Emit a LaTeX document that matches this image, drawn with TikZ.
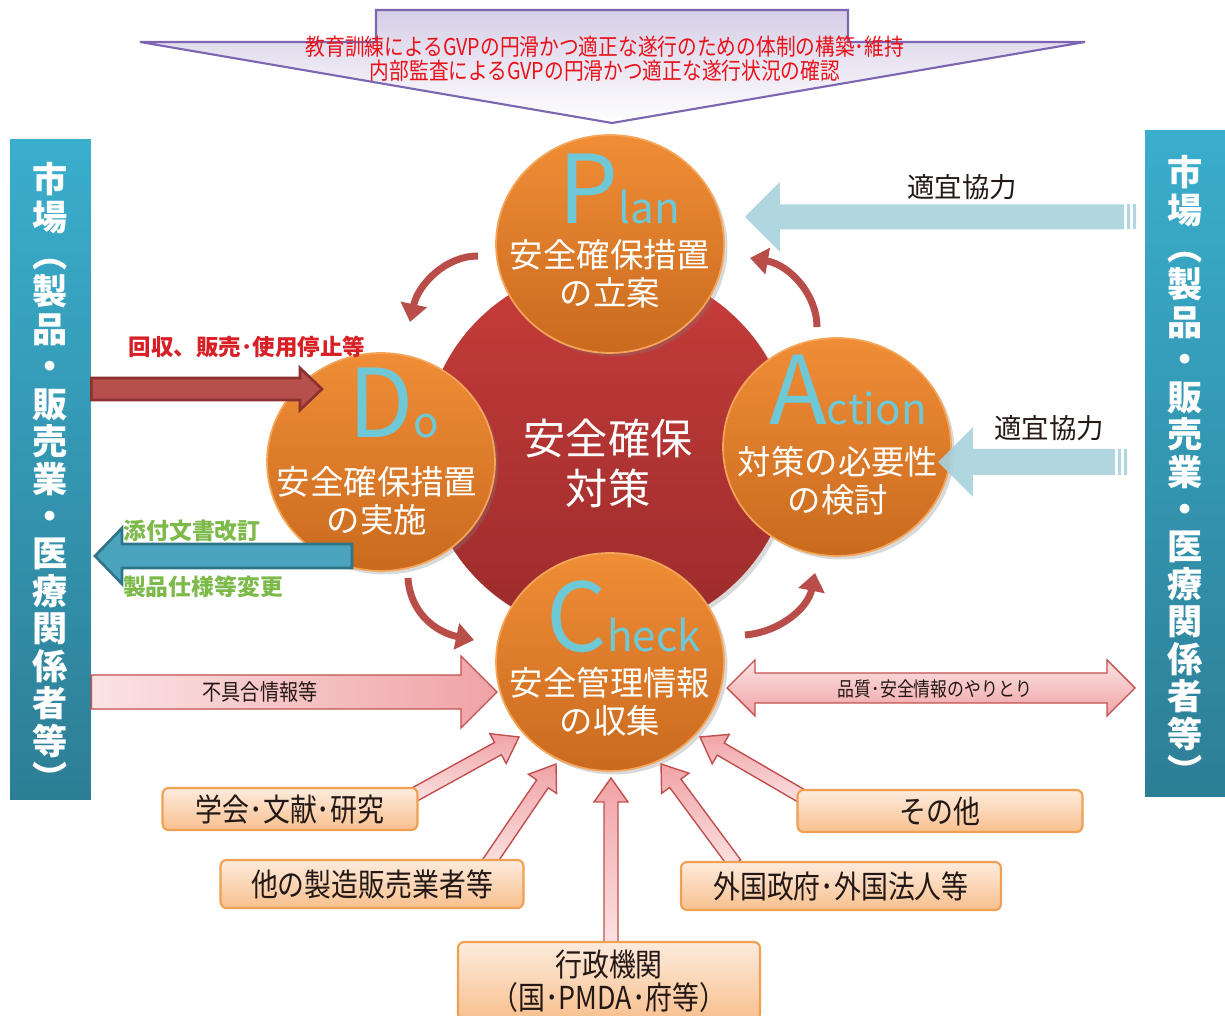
\documentclass[tikz,border=0pt]{standalone}
\usepackage{fontspec}
\setmainfont{Noto Sans CJK JP}
\newfontfamily\condfont[FakeStretch=0.85]{Noto Sans CJK JP}
\usetikzlibrary{calc,shapes.geometric,shadows,arrows.meta}

\definecolor{barT}{HTML}{3AAECD}
\definecolor{barB}{HTML}{2D7E95}
\definecolor{bnFill}{HTML}{D6CEE6}
\definecolor{bnEdge}{HTML}{7C66B2}
\definecolor{bnRed}{HTML}{E8121A}
\definecolor{coreT}{HTML}{C63D3A}
\definecolor{coreB}{HTML}{9B2B2B}
\definecolor{orT}{HTML}{F08D36}
\definecolor{orB}{HTML}{C96A1E}
\definecolor{orL}{HTML}{F5A55A}
\definecolor{letter}{HTML}{6FC8D6}
\definecolor{cycC}{HTML}{B84D4A}
\definecolor{ltBlue}{HTML}{A7D1DD}
\definecolor{pkL}{HTML}{FBE3E4}
\definecolor{pkD}{HTML}{F0A3A6}
\definecolor{pkE}{HTML}{C0504D}
\definecolor{boxT}{HTML}{FDEBDD}
\definecolor{boxB}{HTML}{F8C08E}
\definecolor{boxL}{HTML}{EFA052}
\definecolor{rcF}{HTML}{B5504C}
\definecolor{rcE}{HTML}{8C3030}
\definecolor{tlF}{HTML}{4AA4BD}
\definecolor{tlE}{HTML}{2F7489}
\definecolor{grn}{HTML}{7DBA4B}
\definecolor{redlbl}{HTML}{D71F26}
\definecolor{txt}{HTML}{231815}

% block arrow: style, tail, tip, shaft half width, head half width, head length
\newcommand{\blockarrow}[6]{%
  \coordinate (ba-h) at ($(#3)!#6!(#2)$);
  \path[#1] ($(#2)!#4!90:(#3)$) -- ($(ba-h)!#4!-90:(#2)$) -- ($(ba-h)!#5!-90:(#2)$) -- (#3)
    -- ($(ba-h)!#5!90:(#2)$) -- ($(ba-h)!#4!90:(#2)$) -- ($(#2)!#4!-90:(#3)$) -- cycle;
}
% two headed block arrow
\newcommand{\twinarrow}[6]{%
  \coordinate (ta-a) at ($(#2)!#6!(#3)$);
  \coordinate (ta-b) at ($(#3)!#6!(#2)$);
  \path[#1] (#2) -- ($(ta-a)!#5!90:(#3)$) -- ($(ta-a)!#4!90:(#3)$) -- ($(ta-b)!#4!-90:(#2)$)
    -- ($(ta-b)!#5!-90:(#2)$) -- (#3) -- ($(ta-b)!#5!90:(#2)$) -- ($(ta-b)!#4!90:(#2)$)
    -- ($(ta-a)!#4!-90:(#3)$) -- ($(ta-a)!#5!-90:(#3)$) -- cycle;
}

\begin{document}
\begin{tikzpicture}[x=0.02cm, y=-0.02cm,
  every node/.style={inner sep=0pt},
  bar/.style={top color=barT, bottom color=barB},
  vtext/.style={text=white, align=center, font=\fontsize{20pt}{21.3pt}\selectfont\bfseries},
  core/.style={circle, minimum size=7.36cm, top color=coreT, bottom color=coreB,
    drop shadow={opacity=.3, shadow xshift=2pt, shadow yshift=-2pt}},
  pdca/.style={ellipse, minimum width=4.56cm, minimum height=4.36cm, top color=orT,
    bottom color=orB, draw=orL, line width=1pt,
    drop shadow={opacity=.3, shadow xshift=2pt, shadow yshift=-2pt}},
  big/.style={text=letter, anchor=base},
  ctext/.style={text=white, align=center, font=\fontsize{19pt}{21.6pt}\selectfont},
  cyc/.style={draw=cycC, line width=0.14cm, -{Triangle[width=0.52cm, length=0.36cm]}},
  pinkH/.style={left color=pkL, right color=pkD, draw=pkE, line width=.8pt},
  pinkV/.style={top color=pkD, bottom color=pkL, draw=pkE, line width=.8pt},
  pinkTw/.style={top color=pkL, bottom color=pkD, draw=pkE, line width=.8pt},
  coop/.style={fill=ltBlue, opacity=.9},
  recall/.style={fill=rcF, draw=rcE, line width=1.5pt},
  revise/.style={fill=tlF, draw=tlE, line width=1.5pt},
  srcbox/.style={rounded corners=0.12cm, draw=boxL, line width=1.2pt, top color=boxT,
    bottom color=boxB, text=txt, align=center, font=\condfont\fontsize{18pt}{19pt}\selectfont}]

\useasboundingbox (0,0) rectangle (1225,1016);

% markets on both sides
\node[bar, minimum width=1.62cm, minimum height=13.22cm] (lbar) at (50.5,469.5) {};
\node[bar, minimum width=1.6cm, minimum height=13.34cm] (rbar) at (1185,463.5) {};
\node[vtext] (lbarT) at (50,477) {市\\場\\︵\\製\\品\\・\\販\\売\\業\\・\\医\\療\\関\\係\\者\\等\\︶};
\node[vtext] (rbarT) at (1185,470) {市\\場\\︵\\製\\品\\・\\販\\売\\業\\・\\医\\療\\関\\係\\者\\等\\︶};

% banner
\path[top color=bnFill, bottom color=white, draw=bnEdge, line width=1.2pt]
  (376,10) -- (848,10) -- (848,42) -- (1085,42) -- (612,123) -- (140,42) -- (376,42) -- cycle;
\node[text=bnRed, align=center, font=\condfont\fontsize{13.2pt}{13.7pt}\selectfont] (bnT) at (605,59)
  {教育訓練によるGVPの円滑かつ適正な遂行のための体制の構築･維持\\内部監査によるGVPの円滑かつ適正な遂行状況の確認};

% PDCA
\node[core] (core) at (608,450) {};
\node[pdca] (plan) at (610,244) {};
\node[pdca] (do) at (381,462) {};
\node[pdca] (act) at (837,447) {};
\node[pdca] (check) at (610,662) {};

\node[text=white, align=center, font=\fontsize{24pt}{28.5pt}\selectfont] (coreT) at (608,463) {安全確保\\対策};

\node[big] (planL) at (619,224) {\fontsize{54pt}{54pt}\selectfont P\fontsize{24pt}{24pt}\selectfont lan};
\node[big] (doL) at (394,438) {\fontsize{54pt}{54pt}\selectfont D\fontsize{24pt}{24pt}\selectfont o};
\node[big] (actL) at (848,425) {\fontsize{54pt}{54pt}\selectfont A\fontsize{24pt}{24pt}\selectfont ction};
\node[big] (checkL) at (624,652) {\fontsize{54pt}{54pt}\selectfont C\fontsize{24pt}{24pt}\selectfont heck};

\node[ctext] (planT) at (610,274) {安全確保措置\\の立案};
\node[ctext] (doT) at (377,501) {安全確保措置\\の実施};
\node[ctext] (actT) at (838,481) {対策の必要性\\の検討};
\node[ctext] (checkT) at (610,702) {安全管理情報\\の収集};

% cycle
\draw[cyc] (478,256) .. controls (445,256) and (418,285) .. (410,322);
\draw[cyc] (408,578) .. controls (410,612) and (435,632) .. (474,640);
\draw[cyc] (745,635) .. controls (780,632) and (808,608) .. (815,573);
\draw[cyc] (817,327) .. controls (817,295) and (790,265) .. (750,258);

% arrows to and from the market
\coordinate (rcE) at (322,389);
\coordinate (tlE) at (95,556);
\coordinate (tlS) at (352,556);
\blockarrow{recall}{lbar.east |- rcE}{rcE}{0.22cm}{0.42cm}{0.44cm}
\node[text=redlbl, font=\fontsize{12.8pt}{14pt}\selectfont\bfseries] (rcT) at (247,347) {回収、販売･使用停止等};
\blockarrow{revise}{tlS}{tlE}{0.24cm}{0.56cm}{0.54cm}
\node[text=grn, font=\fontsize{13pt}{14pt}\selectfont\bfseries] (tlT1) at (192,531) {添付文書改訂};
\node[text=grn, font=\fontsize{13pt}{14pt}\selectfont\bfseries] (tlT2) at (203,587) {製品仕様等変更};

\coordinate (bl1S) at (1124,217);
\coordinate (bl1E) at (745,217);
\coordinate (bl2S) at (1115,462);
\coordinate (bl2E) at (938,462);
\blockarrow{coop}{bl1S}{bl1E}{0.25cm}{0.7cm}{0.7cm}
\fill[coop] (1127,204) rectangle (1130,229) (1133,204) rectangle (1136,229);
\node[text=txt, font=\fontsize{15.6pt}{17pt}\selectfont] (bl1T) at (962,187) {適宜協力};
\blockarrow{coop}{bl2S}{bl2E}{0.26cm}{0.7cm}{0.7cm}
\fill[coop] (1118,449) rectangle (1121,475) (1124,449) rectangle (1127,475);
\node[text=txt, font=\fontsize{15.6pt}{17pt}\selectfont] (bl2T) at (1049,428) {適宜協力};

\coordinate (fgE) at (497,692);
\blockarrow{pinkH}{lbar.east |- fgE}{fgE}{0.34cm}{0.72cm}{0.72cm}
\node[text=txt, font=\condfont\fontsize{12.8pt}{14pt}\selectfont] (fgT) at (260,692) {不具合情報等};
\coordinate (qsL) at (727,688);
\coordinate (qsR) at (1135,688);
\twinarrow{pinkTw}{qsL}{qsR}{0.3cm}{0.56cm}{0.56cm}
\node[text=txt, font=\condfont\fontsize{11.3pt}{13pt}\selectfont] (qsT) at (935,689) {品質･安全情報のやりとり};

% sources of information
\coordinate (in1) at (519,737);
\coordinate (in2) at (556,764);
\coordinate (in3) at (611,778);
\coordinate (in4) at (661,764);
\coordinate (in5) at (700,737);
\coordinate (out1) at (410,797);
\coordinate (out2) at (488,864);
\coordinate (out3) at (611,946);
\coordinate (out4) at (735,864);
\coordinate (out5) at (805,798);
\foreach \i in {1,...,5}{
  \blockarrow{pinkV}{out\i}{in\i}{0.14cm}{0.34cm}{0.48cm}
}

\node[srcbox, minimum width=5.1cm, minimum height=0.84cm] (gakkai) at (290,809) {学会･文献･研究};
\node[srcbox, minimum width=6.06cm, minimum height=0.96cm] (tasha) at (372,884) {他の製造販売業者等};
\node[srcbox, minimum width=6.04cm, minimum height=1.56cm] (gyosei) at (609,981) {行政機関\\（国･PMDA･府等）};
\node[srcbox, minimum width=6.4cm, minimum height=0.96cm] (gaikoku) at (841,886) {外国政府･外国法人等};
\node[srcbox, minimum width=5.7cm, minimum height=0.84cm] (sonota) at (940,811) {その他};
\end{tikzpicture}
\end{document}
